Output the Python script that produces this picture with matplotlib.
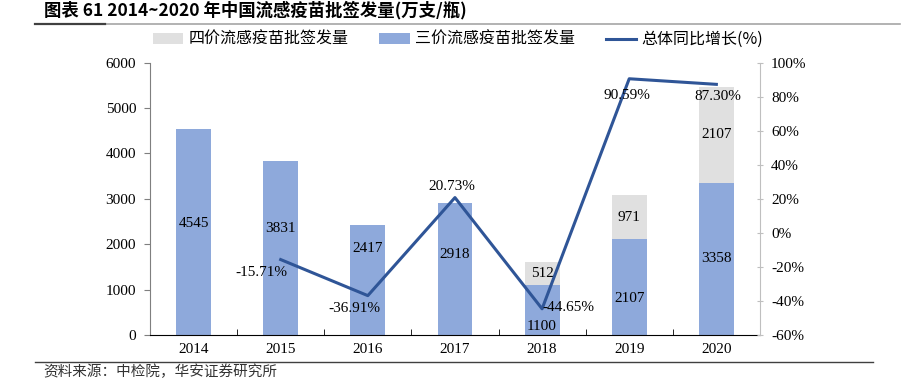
import matplotlib
matplotlib.use("Agg")
import matplotlib.pyplot as plt
import numpy as np

years = ["2014", "2015", "2016", "2017", "2018", "2019", "2020"]
trivalent = [4545, 3831, 2417, 2918, 1100, 2107, 3358]
quadrivalent = [0, 0, 0, 0, 512, 971, 2107]
growth_years = ["2015", "2016", "2017", "2018", "2019", "2020"]
growth = [-15.71, -36.91, 20.73, -44.65, 90.59, 87.30]

cn = ["Noto Sans CJK SC", "DejaVu Sans"]
serif = ["Liberation Serif", "DejaVu Serif"]
c_blue = "#8EA9DB"
c_gray = "#E0E0E0"
c_line = "#2F5597"

fig = plt.figure(figsize=(9.09, 3.78), dpi=100)
ax = fig.add_axes([0.165, 0.114, 0.671, 0.72])
x = np.arange(len(years))
w = 0.4
b1 = ax.bar(x, trivalent, w, color=c_blue, label="三价流感疫苗批签发量", zorder=2)
b2 = ax.bar(x, quadrivalent, w, bottom=trivalent, color=c_gray, label="四价流感疫苗批签发量", zorder=2)

ax.set_xlim(-0.5, 6.5)
ax.set_ylim(0, 6000)
ax.set_yticks(range(0, 6001, 1000))
ax.set_xticks(x)
ax.set_xticklabels(years, fontfamily=serif, fontsize=11)
for t in ax.get_yticklabels():
    t.set_fontfamily(serif)
    t.set_fontsize(11)
ax.set_xticks(np.arange(-0.5, 7, 1), minor=True)
ax.tick_params(axis="x", which="major", length=0, pad=6)
ax.tick_params(axis="x", which="minor", length=4, direction="in", color="black")
ax.tick_params(axis="y", length=4, direction="out", color="#7F7F7F", pad=6)
ax.spines["top"].set_visible(False)
ax.spines["right"].set_visible(False)
ax.spines["left"].set_color("#7F7F7F")
ax.spines["bottom"].set_color("black")

# value labels in bars (a few nudged as in the source)
tri_off = [6, 14, 23, 10, -12, -8, 0]
for i, v in enumerate(trivalent):
    ax.annotate(str(v), (x[i], v / 2), xytext=(0, tri_off[i]), textcoords="offset points",
                ha="center", va="center", fontfamily=serif, fontsize=11, zorder=4)
for i, v in enumerate(quadrivalent):
    if v > 0:
        ax.annotate(str(v), (x[i], trivalent[i] + v / 2), xytext=(0, 0), textcoords="offset points",
                    ha="center", va="center", fontfamily=serif, fontsize=11, zorder=4)

ax2 = ax.twinx()
ax2.set_ylim(-60, 100)
ax2.set_yticks(range(-60, 101, 20))
ax2.set_yticklabels([f"{v}%" for v in range(-60, 101, 20)], fontfamily=serif, fontsize=11)
ax2.tick_params(axis="y", length=4, direction="inout", color="#BFBFBF", pad=6)
for s in ["top", "left", "bottom"]:
    ax2.spines[s].set_visible(False)
ax2.spines["right"].set_color("#BFBFBF")
gx = [years.index(y) for y in growth_years]
ln, = ax2.plot(gx, growth, color=c_line, lw=2.2, label="总体同比增长(%)", zorder=3)
pct_off = [(-14, -9), (-10, -9), (-2, 8), (19, 1), (-2, -12), (1, -9)]
for i, v in enumerate(growth):
    ax2.annotate(f"{v:.2f}%", (gx[i], v), xytext=pct_off[i], textcoords="offset points",
                 ha="center", va="center", fontfamily=serif, fontsize=11)

# legend
fig.legend([b2, b1, ln], ["四价流感疫苗批签发量", "三价流感疫苗批签发量", "总体同比增长(%)"],
           loc="center", bbox_to_anchor=(0.504, 0.895), ncol=3, frameon=False,
           prop={"family": cn, "size": 11.5}, handlelength=1.9, handleheight=0.7,
           columnspacing=1.9, handletextpad=0.35)

# title and rules
fig.text(0.048, 0.972, "图表 61 2014~2020 年中国流感疫苗批签发量(万支/瓶)", fontfamily=cn,
         fontsize=12.5, fontweight="bold", va="center", ha="left")
fig.add_artist(plt.Line2D([0.038, 0.99], [0.937, 0.937], color="#A6A6A6", lw=1.2))
fig.add_artist(plt.Line2D([0.038, 0.115], [0.937, 0.937], color="#404040", lw=1.6))
fig.add_artist(plt.Line2D([0.038, 0.96], [0.043, 0.043], color="#404040", lw=1.0))
fig.text(0.048, 0.016, "资料来源：中检院，华安证券研究所", fontfamily=cn, fontsize=10.5,
         color="#333333", va="center", ha="left")

fig.savefig("out.png", dpi=100)
